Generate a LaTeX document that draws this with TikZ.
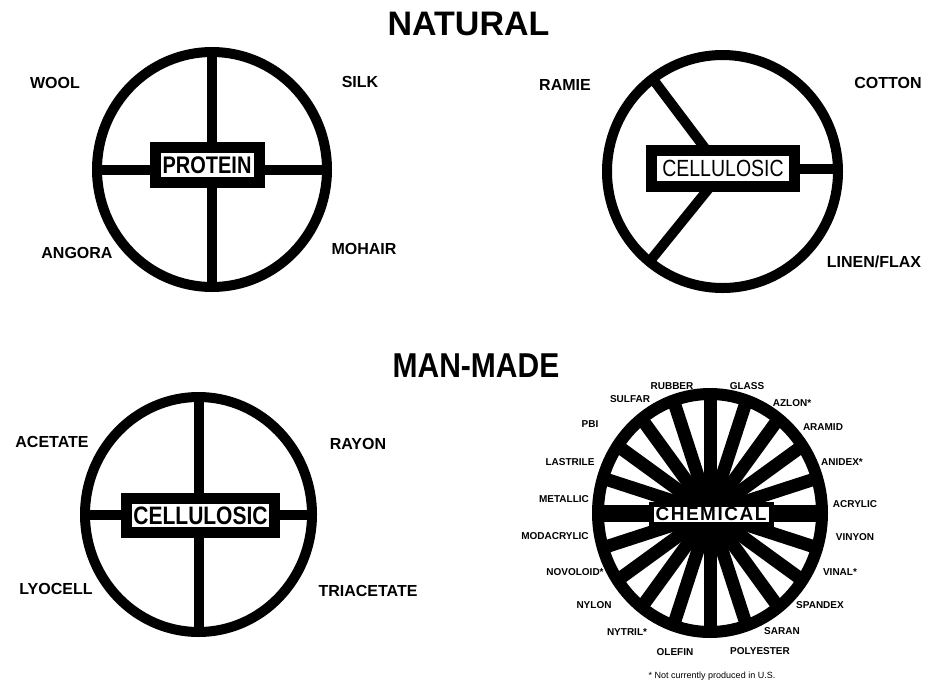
\documentclass[tikz,border=0pt]{standalone}
\usepackage{fontspec}
\setmainfont{Liberation Sans}
\usetikzlibrary{shapes.geometric}
\begin{document}
\begin{tikzpicture}[x=1pt,y=-1pt,
  ring/.style={ellipse, draw, line width=10pt, outer sep=0pt, inner sep=0pt},
  spoke/.style={line width=10pt},
  hub/.style={draw, fill=white, line width=11pt, inner sep=0pt, outer sep=0pt},
  lab/.style={font=\fontsize{16}{16}\selectfont\bfseries},
  clab/.style={font=\fontsize{10}{10}\selectfont\bfseries},
  title/.style={font=\fontsize{34}{34}\selectfont\bfseries}]
\useasboundingbox (0,0) rectangle (927,681);

% titles
\node[title] (nat) at (468.5,24) {NATURAL};
\node (mm) at (476,366) {\scalebox{1}[1.15]{\fontsize{30}{30}\selectfont\bfseries MAN-MADE}};

% protein wheel
\node[ring, minimum width=230, minimum height=235] (p) at (212,169.5) {};
\draw[spoke] (p.north) -- (p.south);
\draw[spoke] (p.west) -- (p.east);
\node[hub, minimum width=104, minimum height=34.5] (pb) at (207,165)
  {\scalebox{1}[1.2]{\fontsize{20}{20}\selectfont\bfseries PROTEIN}};
\node[lab] (wool) at (55,83) {WOOL};
\node[lab] (silk) at (360,82) {SILK};
\node[lab] (angora) at (77,253) {ANGORA};
\node[lab] (mohair) at (364,249) {MOHAIR};

% natural cellulosic wheel
\node[ring, minimum width=231, minimum height=233] (nc) at (722.5,171.5) {};
\draw[spoke] (nc.127.5) -- (nc.center);
\draw[spoke] (nc.231) -- (nc.center);
\node[hub, minimum width=143, minimum height=36] (nb) at (723,168.5)
  {\scalebox{1}[1.2]{\fontsize{19.5}{19.5}\selectfont CELLULOSIC}};
\draw[spoke] (nb.east) -- (nb.east -| nc.east);
\node[lab] (ramie) at (565,85) {RAMIE};
\node[lab] (cotton) at (888,83) {COTTON};
\node[lab] (linen) at (874,262) {LINEN/FLAX};

% man-made cellulosic wheel
\node[ring, minimum width=227, minimum height=235] (mc) at (198.5,514.5) {};
\draw[spoke] (mc.north) -- (mc.south);
\draw[spoke] (mc.west) -- (mc.east);
\node[hub, minimum width=148, minimum height=34] (mb) at (200.5,515.5)
  {\scalebox{1}[1.2]{\fontsize{21}{21}\selectfont\bfseries CELLULOSIC}};
\node[lab] (acetate) at (52,442) {ACETATE};
\node[lab] (rayon) at (358,444) {RAYON};
\node[lab] (lyocell) at (56,589) {LYOCELL};
\node[lab] (triacetate) at (368,591) {TRIACETATE};

% chemical wheel
\node[ring, line width=12pt, minimum width=224, minimum height=238] (ch) at (710,513) {};
\foreach \a in {18,36,...,162,198,216,...,342} \draw[spoke, line width=13pt] (ch.center) -- (ch.\a);
\draw[spoke, line width=17pt] (ch.west) -- (ch.east);
\node[draw, fill=white, line width=5pt, minimum width=120, minimum height=20, inner sep=0pt] (cb) at (711,514)
  {\fontsize{19}{19}\selectfont\bfseries\addfontfeature{LetterSpace=8}CHEMICAL};
\node[clab] (rubber) at (672,386) {RUBBER};
\node[clab] (glass) at (747,386) {GLASS};
\node[clab] (sulfar) at (630,399) {SULFAR};
\node[clab] (azlon) at (792,403) {AZLON*};
\node[clab] (pbi) at (590,424) {PBI};
\node[clab] (aramid) at (823,427) {ARAMID};
\node[clab] (lastrile) at (570,462) {LASTRILE};
\node[clab] (anidex) at (842,462) {ANIDEX*};
\node[clab] (metallic) at (564,499) {METALLIC};
\node[clab] (acrylic) at (855,504) {ACRYLIC};
\node[clab] (modacrylic) at (555,536) {MODACRYLIC};
\node[clab] (vinyon) at (855,537) {VINYON};
\node[clab] (novoloid) at (575,572) {NOVOLOID*};
\node[clab] (vinal) at (840,572) {VINAL*};
\node[clab] (nylon) at (594,605) {NYLON};
\node[clab] (spandex) at (820,605) {SPANDEX};
\node[clab] (nytril) at (627,632) {NYTRIL*};
\node[clab] (saran) at (782,631) {SARAN};
\node[clab] (olefin) at (675,652) {OLEFIN};
\node[clab] (polyester) at (760,651) {POLYESTER};
\node[font=\fontsize{9}{9}\selectfont] (fn) at (712,676) {* Not currently produced in U.S.};
\end{tikzpicture}
\end{document}
